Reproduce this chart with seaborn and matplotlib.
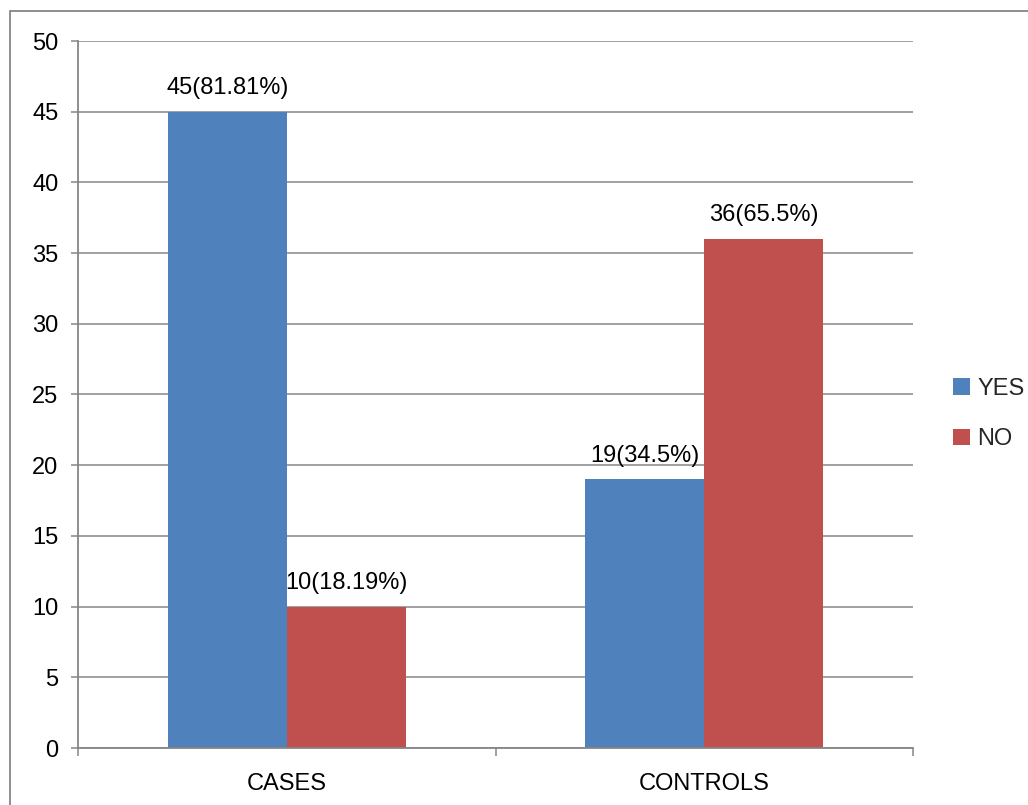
import matplotlib
matplotlib.use("Agg")
import matplotlib.pyplot as plt
from matplotlib.patches import Rectangle
from matplotlib.ticker import FixedLocator
import seaborn as sns
import pandas as pd

groups = ["CASES", "CONTROLS"]
responses = ["YES", "NO"]
yes_counts = [45, 19]
no_counts = [10, 36]
yes_labels = ["45(81.81%)", "19(34.5%)"]
no_labels = ["10(18.19%)", "36(65.5%)"]
colors = ["#4F81BD", "#C0504D"]

sns.set_theme(style="white")
plt.rcParams["font.family"] = ["Liberation Sans Narrow", "Liberation Sans", "DejaVu Sans"]

df = pd.DataFrame({
    "group": groups * 2,
    "response": [responses[0]] * 2 + [responses[1]] * 2,
    "count": yes_counts + no_counts,
    "label": yes_labels + no_labels,
})

fig = plt.figure(figsize=(10.28, 8.05), dpi=100)
ax = fig.add_axes([78 / 1028, 57 / 805, (913 - 78) / 1028, (748 - 41) / 805])

sns.barplot(data=df, x="group", y="count", hue="response", order=groups,
            hue_order=responses, palette=colors, width=0.57, gap=0,
            saturation=1, ax=ax, edgecolor="none", linewidth=0, errorbar=None)

grid_color = "#868686"
ax.set_ylim(0, 50)
ax.set_xlim(-0.5, 1.5)
ax.set_yticks(range(0, 51, 5))
ax.yaxis.grid(True, color=grid_color, linewidth=1.1)
ax.set_axisbelow(True)
ax.set_xlabel("")
ax.set_ylabel("")

for side in ["top", "right"]:
    ax.spines[side].set_visible(False)
for side in ["left", "bottom"]:
    ax.spines[side].set_color(grid_color)
    ax.spines[side].set_linewidth(1.3)

ax.tick_params(axis="y", which="major", length=5, width=1.1, color=grid_color,
               labelsize=17, pad=9, direction="out", left=True)
ax.tick_params(axis="x", which="major", length=0, labelsize=17, pad=18)
ax.xaxis.set_minor_locator(FixedLocator([-0.5, 0.5, 1.5]))
ax.tick_params(axis="x", which="minor", length=6, width=1.1, color=grid_color,
               direction="out", bottom=True)
for lbl in ax.get_xticklabels() + ax.get_yticklabels():
    lbl.set_color("#000000")

for container, labels in zip(ax.containers, [yes_labels, no_labels]):
    ax.bar_label(container, labels=labels, padding=9, fontsize=17, color="#000000")

handles, _ = ax.get_legend_handles_labels()
ax.legend(handles, responses, loc="center left",
          bbox_to_anchor=(944 / 1028, (805 - 414) / 805),
          bbox_transform=fig.transFigure, frameon=False, fontsize=17,
          handlelength=0.7, handleheight=0.7, handletextpad=0.3, labelspacing=1.2,
          borderaxespad=0, borderpad=0.4)

fig.add_artist(Rectangle((10 / 1028, -0.05), 1.1, (805 - 11) / 805 + 0.05,
                         transform=fig.transFigure, fill=False,
                         edgecolor=grid_color, linewidth=1.3))

fig.savefig("out.png", dpi=100)
